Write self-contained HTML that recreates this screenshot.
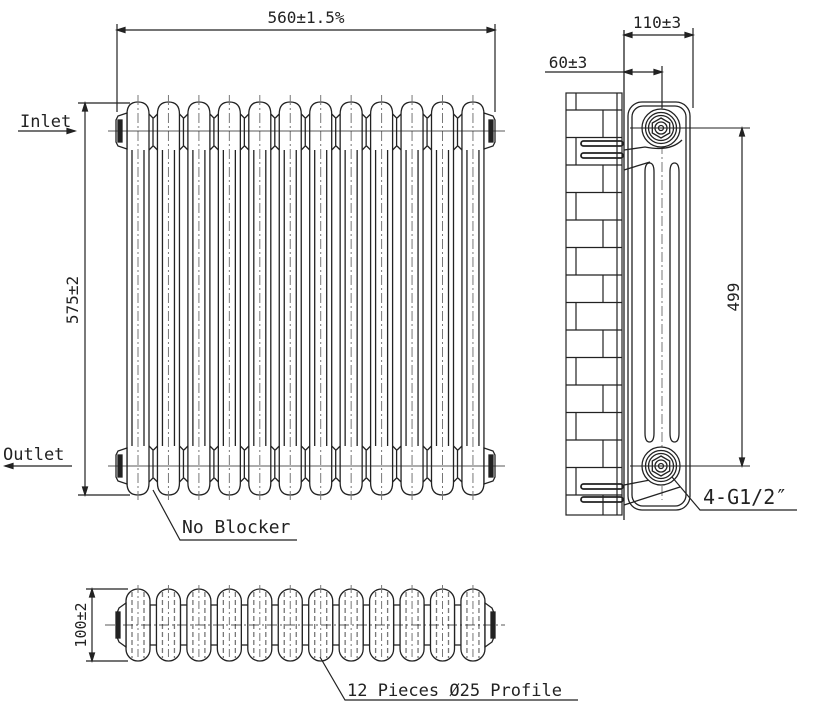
<!DOCTYPE html>
<html><head><meta charset="utf-8"><style>
html,body{margin:0;padding:0;background:#fff;}
svg{display:block;}
text{font-family:"DejaVu Sans Mono","Liberation Mono",monospace;fill:#222;}
</style></head><body>
<svg width="840" height="712" viewBox="0 0 840 712" xmlns="http://www.w3.org/2000/svg">
<defs>
<g id="col" fill="none" stroke="#222" stroke-width="1.3">
  <path d="M-11,114 Q-11,102 0,102 Q11,102 11,114 L11,483 Q11,495 0,495 Q-11,495 -11,483 Z" fill="#fff"/>
  <line x1="-6" y1="150" x2="-6" y2="446"/>
  <line x1="6" y1="150" x2="6" y2="446"/>
  <line x1="0" y1="95" x2="0" y2="500" stroke="#777" stroke-width="1" stroke-dasharray="10 3 2 3"/>
</g>
<g id="neck" fill="none" stroke="#222" stroke-width="1.3">
  <path d="M11,114 L15,118 L15,146 L11,150 M19.5,114 L15.5,118 M19.5,150 L15.5,146"/>
  <path d="M11,446 L15,450 L15,478 L11,482 M19.5,446 L15.5,450 M19.5,482 L15.5,478"/>
</g>
<g id="tcol" fill="none" stroke="#222" stroke-width="1.3">
  <rect x="12" y="605" width="7" height="40" fill="#fff"/>
  <rect x="-12" y="589" width="24" height="72" rx="12" fill="#fff"/>
  <line x1="-6" y1="592" x2="-6" y2="658" stroke="#777" stroke-dasharray="5 3"/>
  <line x1="6" y1="592" x2="6" y2="658" stroke="#777" stroke-dasharray="5 3"/>
  <line x1="0" y1="585" x2="0" y2="665" stroke="#777" stroke-width="1" stroke-dasharray="8 3 2 3"/>
</g>
</defs>

<g stroke="#222" stroke-width="1.2" fill="none">
<line x1="117" y1="30" x2="495" y2="30"/>
<line x1="117" y1="24" x2="117" y2="112"/>
<line x1="495" y1="24" x2="495" y2="112"/>
<path d="M117,30 l8,-2.5 v5 z M495,30 l-8,-2.5 v5 z" fill="#222"/>
<line x1="85" y1="103" x2="85" y2="495"/>
<line x1="78" y1="103" x2="130" y2="103"/>
<line x1="78" y1="495" x2="130" y2="495"/>
<path d="M85,103 l-2.5,8 h5 z M85,495 l-2.5,-8 h5 z" fill="#222"/>
<line x1="18" y1="131" x2="75" y2="131"/>
<path d="M75,131 l-8,-2.5 v5 z" fill="#222"/>
<line x1="5" y1="466" x2="72" y2="466"/>
<path d="M5,466 l8,-2.5 v5 z" fill="#222"/>
</g>

<use href="#col" x="138"/><use href="#col" x="168.45"/><use href="#col" x="198.9"/><use href="#col" x="229.35"/><use href="#col" x="259.8"/><use href="#col" x="290.25"/><use href="#col" x="320.7"/><use href="#col" x="351.15"/><use href="#col" x="381.6"/><use href="#col" x="412.05"/><use href="#col" x="442.5"/><use href="#col" x="472.95"/>
<use href="#neck" x="138"/><use href="#neck" x="168.45"/><use href="#neck" x="198.9"/><use href="#neck" x="229.35"/><use href="#neck" x="259.8"/><use href="#neck" x="290.25"/><use href="#neck" x="320.7"/><use href="#neck" x="351.15"/><use href="#neck" x="381.6"/><use href="#neck" x="412.05"/><use href="#neck" x="442.5"/>
<g stroke="#222" stroke-width="1.3" fill="#fff">
<path d="M127,113 L118,116 L116,120 L116,142 L118,146 L127,149 Z"/>
<rect x="118" y="120" width="4" height="22" fill="#222"/>
<path d="M127,448 L118,451 L116,455 L116,477 L118,481 L127,484 Z"/>
<rect x="118" y="455" width="4" height="22" fill="#222"/>
<path d="M484,113 L493,116 L495,120 L495,142 L493,146 L484,149 Z"/>
<rect x="489" y="120" width="4" height="22" fill="#222"/>
<path d="M484,448 L493,451 L495,455 L495,477 L493,481 L484,484 Z"/>
<rect x="489" y="455" width="4" height="22" fill="#222"/>
</g>
<g stroke="#222" stroke-width="1.2" fill="none">
<line x1="108" y1="131" x2="505" y2="131" stroke-width="0.8"/>
<line x1="108" y1="466" x2="505" y2="466" stroke-width="0.8"/>
<polyline points="153,490 180,540 297,540"/>
</g>

<use href="#tcol" x="138"/><use href="#tcol" x="168.45"/><use href="#tcol" x="198.9"/><use href="#tcol" x="229.35"/><use href="#tcol" x="259.8"/><use href="#tcol" x="290.25"/><use href="#tcol" x="320.7"/><use href="#tcol" x="351.15"/><use href="#tcol" x="381.6"/><use href="#tcol" x="412.05"/><use href="#tcol" x="442.5"/>
<g stroke="#222" stroke-width="1.3" fill="#fff">
<rect x="460.95" y="589" width="24" height="72" rx="12"/>
<line x1="472.95" y1="585" x2="472.95" y2="665" stroke="#777" stroke-width="1" stroke-dasharray="8 3 2 3"/>
<line x1="466.95" y1="592" x2="466.95" y2="658" stroke="#777" stroke-dasharray="5 3"/>
<line x1="478.95" y1="592" x2="478.95" y2="658" stroke="#777" stroke-dasharray="5 3"/>
<path d="M126,603 L119,608 L117,613 L117,637 L119,642 L126,647 Z"/>
<rect x="116" y="612" width="4" height="26" fill="#222"/>
<path d="M485,603 L492,608 L494,613 L494,637 L492,642 L485,647 Z"/>
<rect x="491" y="612" width="4" height="26" fill="#222"/>
</g>
<g stroke="#222" stroke-width="1.2" fill="none">
<line x1="105" y1="625" x2="505" y2="625" stroke-width="0.8" stroke-dasharray="10 3 2 3"/>
<line x1="92" y1="589" x2="92" y2="661"/>
<line x1="86" y1="589" x2="128" y2="589"/>
<line x1="86" y1="661" x2="128" y2="661"/>
<path d="M92,589 l-2.5,8 h5 z M92,661 l-2.5,-8 h5 z" fill="#222"/>
<polyline points="320,657 345,700 578,700"/>
</g>

<g stroke="#222" stroke-width="1.2" fill="none">
<rect x="566" y="93" width="56" height="422"/>
<line x1="566" y1="110" x2="622" y2="110"/><line x1="566" y1="137.5" x2="622" y2="137.5"/><line x1="566" y1="165" x2="622" y2="165"/><line x1="566" y1="192.5" x2="622" y2="192.5"/><line x1="566" y1="220" x2="622" y2="220"/><line x1="566" y1="247.5" x2="622" y2="247.5"/><line x1="566" y1="275" x2="622" y2="275"/><line x1="566" y1="302.5" x2="622" y2="302.5"/><line x1="566" y1="330" x2="622" y2="330"/><line x1="566" y1="357.5" x2="622" y2="357.5"/><line x1="566" y1="385" x2="622" y2="385"/><line x1="566" y1="412.5" x2="622" y2="412.5"/><line x1="566" y1="440" x2="622" y2="440"/><line x1="566" y1="467.5" x2="622" y2="467.5"/><line x1="566" y1="495" x2="622" y2="495"/>
<line x1="576" y1="93" x2="576" y2="110"/><line x1="603" y1="110" x2="603" y2="137.5"/><line x1="576" y1="137.5" x2="576" y2="165"/><line x1="603" y1="165" x2="603" y2="192.5"/><line x1="576" y1="192.5" x2="576" y2="220"/><line x1="603" y1="220" x2="603" y2="247.5"/><line x1="576" y1="247.5" x2="576" y2="275"/><line x1="603" y1="275" x2="603" y2="302.5"/><line x1="576" y1="302.5" x2="576" y2="330"/><line x1="603" y1="330" x2="603" y2="357.5"/><line x1="576" y1="357.5" x2="576" y2="385"/><line x1="603" y1="385" x2="603" y2="412.5"/><line x1="576" y1="412.5" x2="576" y2="440"/><line x1="603" y1="440" x2="603" y2="467.5"/><line x1="576" y1="467.5" x2="576" y2="495"/><line x1="603" y1="495" x2="603" y2="515"/>
<line x1="617" y1="93" x2="617" y2="515"/>
</g>
<g stroke="#222" stroke-width="1.3" fill="none">
<line x1="624" y1="30" x2="624" y2="520"/>
<rect x="628" y="102" width="62" height="408" rx="14" fill="#fff"/>
<rect x="632" y="106" width="54" height="400" rx="11"/>
<path d="M645,172 Q645,163 649.5,163 Q654,163 654,172 L654,433 Q654,442 649.5,442 Q645,442 645,433 Z"/>
<path d="M670,172 Q670,163 674.5,163 Q679,163 679,172 L679,433 Q679,442 674.5,442 Q670,442 670,433 Z"/>
<line x1="662" y1="90" x2="662" y2="500" stroke="#777" stroke-width="1" stroke-dasharray="10 3 2 3"/>
<path d="M624,150 L645,147 Q670,152 682,140"/>
<path d="M624,170 L650,162"/>
<path d="M624,485 L650,480"/>
<path d="M624,505 L680,487"/>
<circle cx="661" cy="128" r="19" fill="#fff"/><circle cx="661" cy="128" r="15.5"/><circle cx="661" cy="128" r="12.5"/>
<polygon points="661,118 669.7,123 669.7,133 661,138 652.3,133 652.3,123"/>
<circle cx="661" cy="128" r="6"/><circle cx="661" cy="128" r="2.5"/>
<circle cx="661" cy="466" r="19" fill="#fff"/><circle cx="661" cy="466" r="15.5"/><circle cx="661" cy="466" r="12.5"/>
<polygon points="661,456 669.7,461 669.7,471 661,476 652.3,471 652.3,461"/>
<circle cx="661" cy="466" r="6"/><circle cx="661" cy="466" r="2.5"/>
</g>
<g stroke="#222" stroke-width="1.8" fill="none">
<rect x="581" y="141" width="42" height="5" rx="2.5"/>
<rect x="581" y="153" width="42" height="5" rx="2.5"/>
<rect x="581" y="484" width="42" height="5" rx="2.5"/>
<rect x="581" y="497" width="42" height="5" rx="2.5"/>
</g>
<g stroke="#222" stroke-width="1.2" fill="none">
<line x1="630" y1="128" x2="750" y2="128" stroke-width="1"/>
<line x1="630" y1="466" x2="750" y2="466" stroke-width="1"/>
<line x1="742" y1="128" x2="742" y2="466"/>
<path d="M742,128 l-2.5,8 h5 z M742,466 l-2.5,-8 h5 z" fill="#222"/>
<line x1="693" y1="28" x2="693" y2="108"/>
<line x1="624" y1="35" x2="693" y2="35"/>
<path d="M624,35 l8,-2.5 v5 z M693,35 l-8,-2.5 v5 z" fill="#222"/>
<line x1="662" y1="66" x2="662" y2="108"/>
<line x1="545" y1="72" x2="662" y2="72"/>
<path d="M624,72 l8,-2.5 v5 z M662,72 l-8,-2.5 v5 z" fill="#222"/>
<polyline points="672,477 700,510 797,510"/>
</g>

<text x="306" y="23" font-size="16" text-anchor="middle">560±1.5%</text>
<text x="657" y="28" font-size="16" text-anchor="middle">110±3</text>
<text x="568" y="68" font-size="16" text-anchor="middle">60±3</text>
<text x="20" y="127" font-size="17">Inlet</text>
<text x="3" y="460" font-size="17">Outlet</text>
<text x="182" y="533" font-size="18">No Blocker</text>
<text x="703" y="504" font-size="20">4-G1/2″</text>
<text x="347" y="696" font-size="17">12 Pieces Ø25 Profile</text>
<text transform="translate(78,300) rotate(-90)" font-size="16" text-anchor="middle">575±2</text>
<text transform="translate(739,297) rotate(-90)" font-size="16" text-anchor="middle">499</text>
<text transform="translate(86,625) rotate(-90)" font-size="15" text-anchor="middle">100±2</text>
</svg>
</body></html>
